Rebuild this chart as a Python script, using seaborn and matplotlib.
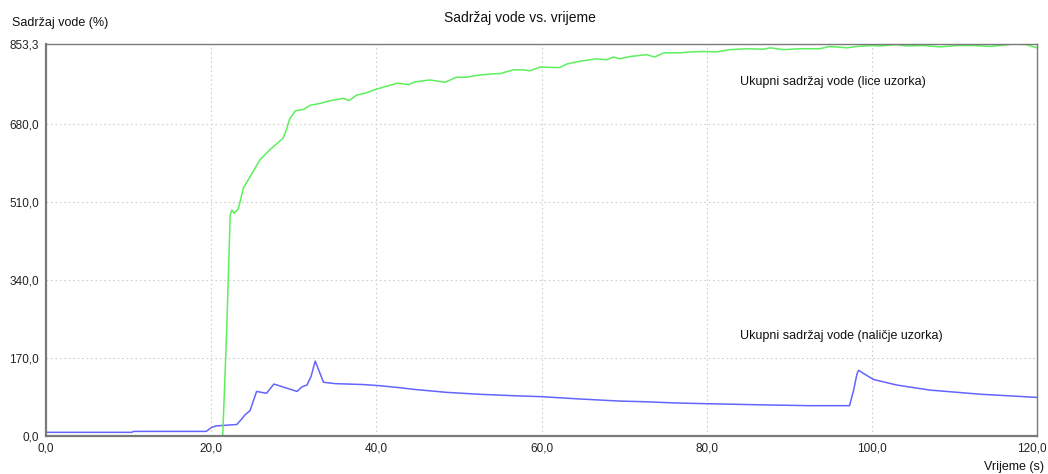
import pandas as pd
import matplotlib.pyplot as plt
import matplotlib.transforms as mtransforms
import seaborn as sns

# vrijeme (s) i sadrzaj vode (%) ocitani s grafa
t_lice = [0, 21.4, 21.9, 22.3, 22.5, 22.8, 23.3, 23.9, 24.7, 25.9, 27.1, 28.7, 29.1,
          29.5, 30.2, 31.2, 32.0, 33.2, 34.2, 36.0, 36.7, 37.6, 38.8, 40.0, 40.8,
          42.5, 43.9, 44.7, 46.5, 48.3, 49.7, 50.9, 52.2, 53.8, 55.0, 56.6, 57.8,
          58.6, 59.8, 62.2, 63.1, 64.7, 66.7, 67.9, 68.7, 69.5, 70.7, 72.7, 73.7,
          74.8, 76.8, 78.0, 79.6, 81.2, 82.8, 84.9, 86.9, 87.7, 89.3, 91.3, 93.7,
          94.9, 97.0, 98.2, 100.0, 101.0, 103.0, 104.2, 106.2, 108.3, 110.3, 112.3,
          114.3, 115.5, 117.1, 118.7, 120.0]
v_lice = [0, 0, 240, 480, 492, 485, 495, 540, 564, 601, 623, 648, 666,
          690, 708, 711, 720, 724, 729, 735, 730, 742, 747, 755, 759,
          768, 765, 771, 775, 770, 781, 781, 785, 788, 789, 797, 797,
          795, 803, 802, 810, 816, 821, 819, 825, 821, 826, 830, 825,
          834, 834, 836, 837, 836, 841, 843, 842, 845, 841, 843, 843,
          848, 845, 848, 850, 849, 852, 849, 850, 847, 850, 850,
          848, 850, 853, 852, 845]

t_nalicje = [0, 10.4, 10.6, 19.4, 20.0, 20.6, 23.1, 23.6, 24.1, 24.7, 25.5, 26.7,
             27.6, 30.4, 31.0, 31.6, 32.1, 32.6, 33.1, 33.6, 35.0, 38.4, 40.4, 42.9,
             44.5, 48.5, 52.6, 56.6, 60.0, 64.7, 69.5, 72.3, 76.4, 80.0, 86.1, 92.5,
             97.3, 97.8, 98.2, 98.4, 99.0, 100.2, 103.0, 107.0, 113.1, 120.0]
v_nalicje = [8, 8, 10, 10, 18, 22, 25, 35, 46, 55, 97, 93,
             113, 97, 107, 111, 130, 163, 140, 117, 114, 112, 109.5, 105,
             101.6, 95, 90.7, 87.7, 85.6, 80.5, 76, 74.7, 71.8, 70.3, 68, 66,
             66, 100, 135, 143, 136, 123, 111, 100, 91, 84]

y_ticks = [0, 170, 340, 510, 680, 853.3]
y_labels = ['0,0', '170,0', '340,0', '510,0', '680,0', '853,3']
x_ticks = [0, 20, 40, 60, 80, 100, 120]
x_labels = ['0,0', '20,0', '40,0', '60,0', '80,0', '100,0', '120,0']

df_lice = pd.DataFrame({'t': t_lice, 'v': v_lice})
df_nalicje = pd.DataFrame({'t': t_nalicje, 'v': v_nalicje})

sns.set_style("white")
plt.rcParams['font.family'] = ['Liberation Sans', 'DejaVu Sans']

fig = plt.figure(figsize=(10.48, 4.74), dpi=100)
ax = fig.add_axes([46 / 1048, 1 - 436 / 474, 991 / 1048, 392 / 474])

sns.lineplot(data=df_nalicje, x='t', y='v', color='#6464ff', linewidth=1.1, ax=ax)
sns.lineplot(data=df_lice, x='t', y='v', color='#5cf05c', linewidth=1.1, ax=ax)

ax.set_xlim(0, 120)
ax.set_ylim(0, 853.3)
ax.set_xticks(x_ticks)
ax.set_xticklabels(x_labels)
ax.set_yticks(y_ticks)
ax.set_yticklabels(y_labels)
ax.set_xlabel('')
ax.set_ylabel('')
ax.tick_params(axis='both', labelsize=8.5, length=3, width=0.8,
               color='#606060', labelcolor='#222222', pad=2, direction='out')

# zadnja oznaka na x osi malo ulijevo da stane u sliku
last = ax.get_xticklabels()[-1]
last.set_transform(last.get_transform() +
                   mtransforms.ScaledTranslation(-5 / 100, 0, fig.dpi_scale_trans))

for s in ax.spines.values():
    s.set_color('#7a7a7a')
    s.set_linewidth(1.0)
ax.spines['left'].set_linewidth(1.6)
ax.spines['bottom'].set_linewidth(1.6)

# tockaste linije mreze
for x in x_ticks[1:-1]:
    ax.axvline(x, color='#cfcfcf', linewidth=0.8, linestyle=(0, (1.5, 2.5)), zorder=0)
for y in y_ticks[1:-1]:
    ax.axhline(y, color='#cfcfcf', linewidth=0.8, linestyle=(0, (1.5, 2.5)), zorder=0)

ax.text(84, 770, 'Ukupni sadržaj vode (lice uzorka)', fontsize=9, color='#111111',
        va='center', ha='left')
ax.text(84, 218, 'Ukupni sadržaj vode (naličje uzorka)', fontsize=9, color='#111111',
        va='center', ha='left')

fig.text(520 / 1048, 1 - 18 / 474, 'Sadržaj vode vs. vrijeme', fontsize=10,
         ha='center', va='center', color='#111111')
fig.text(12 / 1048, 1 - 23 / 474, 'Sadržaj vode (%)', fontsize=9,
         ha='left', va='center', color='#111111')
fig.text(1044 / 1048, 1 - 467 / 474, 'Vrijeme (s)', fontsize=9,
         ha='right', va='center', color='#111111')

plt.savefig('out.png', dpi=100)
plt.close()
